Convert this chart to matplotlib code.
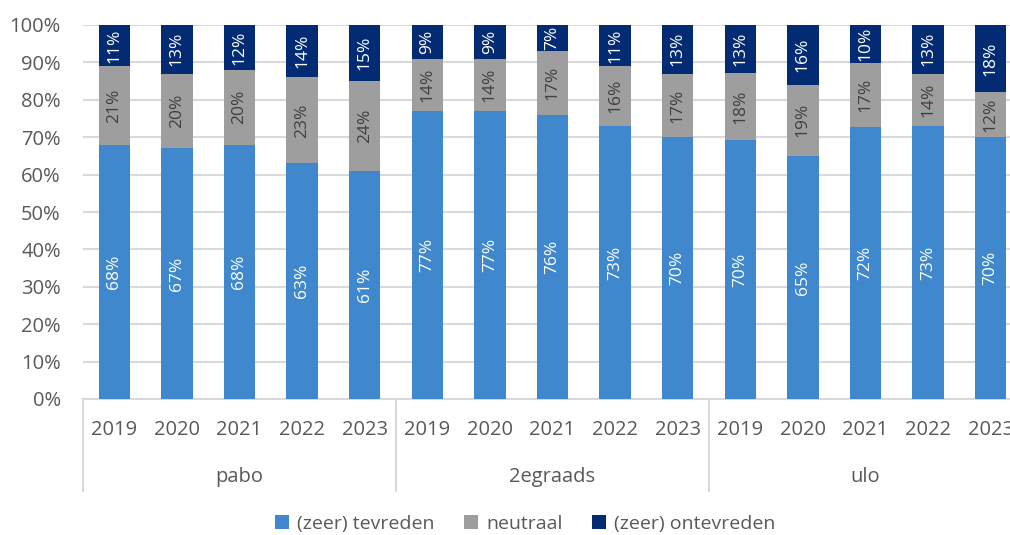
import numpy as np
import matplotlib.pyplot as plt
from matplotlib.patches import Patch
import matplotlib.transforms as mtransforms

plt.rcParams['font.family'] = ['Open Sans', 'DejaVu Sans']

groups = ['pabo', '2egraads', 'ulo']
years = ['2019', '2020', '2021', '2022', '2023']
series = ['(zeer) tevreden', 'neutraal', '(zeer) ontevreden']

tevreden = [68, 67, 68, 63, 61, 77, 77, 76, 73, 70, 70, 65, 72, 73, 70]
neutraal = [21, 20, 20, 23, 24, 14, 14, 17, 16, 17, 18, 19, 17, 14, 12]
ontevreden = [11, 13, 12, 14, 15, 9, 9, 7, 11, 13, 13, 16, 10, 13, 18]

colors = ['#3F88CD', '#9E9E9E', '#032B73']
label_colors = ['white', '#404040', 'white']
text_col = '#595959'

vals = np.array([tevreden, neutraal, ontevreden], dtype=float)
# 100% stacked: scale every column to its own total
shares = vals / vals.sum(axis=0) * 100

n = vals.shape[1]
x = np.arange(n)

fig = plt.figure(figsize=(10.10, 5.35), dpi=100)
ax = fig.add_axes([83 / 1010, 136 / 535, 939 / 1010, 374 / 535])

bottom = np.zeros(n)
for i in range(3):
    ax.bar(x, shares[i], bottom=bottom, width=0.5, color=colors[i], zorder=3)
    for j in range(n):
        ax.text(x[j], bottom[j] + shares[i][j] / 2, f'{int(vals[i][j])}%',
                rotation=90, ha='center', va='center', fontsize=12.5,
                color=label_colors[i], zorder=4)
    bottom += shares[i]

ax.set_xlim(-0.5, n - 0.5)
ax.set_ylim(0, 100)
ax.set_yticks(np.arange(0, 101, 10))
ax.set_yticklabels([f'{v}%' for v in range(0, 101, 10)])
ax.yaxis.grid(True, color='#D9D9D9', linewidth=1.5, zorder=0)
ax.set_xticks(x)
ax.set_xticklabels(years * len(groups))
ax.tick_params(axis='both', length=0, labelsize=14.5, colors=text_col)
ax.tick_params(axis='y', pad=16)
ax.tick_params(axis='x', pad=15)
for s in ['top', 'right', 'left']:
    ax.spines[s].set_visible(False)
ax.spines['bottom'].set_color('#D9D9D9')
ax.spines['bottom'].set_linewidth(1.5)

# group labels and separators under the year labels
trans = mtransforms.blended_transform_factory(ax.transData, ax.transAxes)
for g, name in enumerate(groups):
    ax.text(g * 5 + 2, -0.208, name, transform=trans, ha='center', va='center',
            fontsize=14.5, color=text_col)
for k in range(len(groups)):
    ax.plot([k * 5 - 0.5, k * 5 - 0.5], [0, -0.245], transform=trans,
            color='#D9D9D9', linewidth=1.5, clip_on=False)

handles = [Patch(facecolor=c, edgecolor='none') for c in colors]
fig.legend(handles, series, loc='center', bbox_to_anchor=(525 / 1010, 1 - 524 / 535),
           ncol=3, frameon=False, fontsize=14, handlelength=0.75, handleheight=0.75,
           handletextpad=0.4, columnspacing=1.5, labelcolor=text_col)

fig.savefig('out.png', dpi=100)
